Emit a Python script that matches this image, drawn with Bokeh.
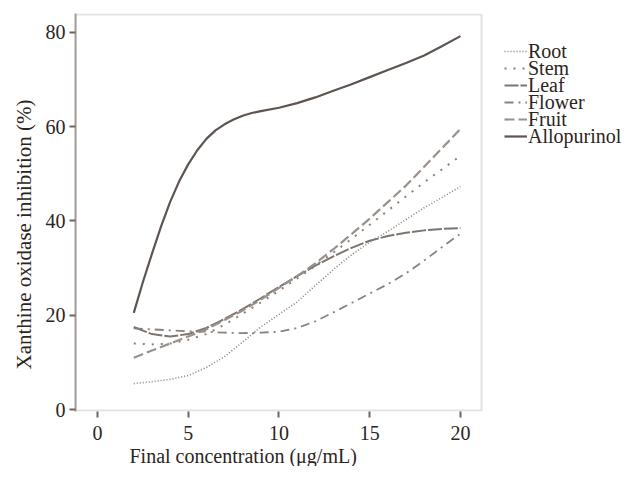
from bokeh.plotting import figure
from bokeh.models import Range1d, FixedTicker, Legend, LegendItem, Title, BoxAnnotation
from bokeh.embed import file_html
from bokeh.resources import INLINE

# ---- data ----
conc = [2, 3, 4, 5, 6, 7, 8, 9, 10, 11, 12, 13, 14, 15, 16, 17, 18, 19, 20]
root = [5.5, 5.9, 6.4, 7.2, 8.9, 11.2, 14.3, 17.5, 20.2, 22.8, 26.3, 29.7, 32.8, 35.5, 37.8, 40.3, 42.8, 45.0, 47.3]
stem = [14.0, 13.8, 14.0, 14.8, 16.0, 18.0, 20.3, 22.7, 25.2, 27.8, 30.5, 33.3, 36.2, 39.2, 42.2, 45.2, 48.2, 51.0, 53.8]
leaf = [17.5, 16.0, 15.5, 16.0, 17.3, 19.2, 21.3, 23.6, 26.0, 28.3, 30.5, 32.5, 34.3, 35.8, 36.8, 37.5, 38.0, 38.3, 38.5]
flower = [17.2, 17.0, 16.8, 16.6, 16.5, 16.3, 16.2, 16.3, 16.5, 17.3, 18.7, 20.6, 22.6, 24.6, 26.6, 28.9, 31.6, 34.5, 37.3]
fruit = [11.0, 12.5, 14.0, 15.5, 17.0, 19.0, 21.0, 23.3, 25.8, 28.3, 31.0, 34.0, 37.2, 40.5, 44.0, 47.5, 51.5, 55.5, 59.5]
# Allopurinol is read more densely where it bends
allo_conc = [2, 2.5, 3, 3.5, 4, 4.5, 5, 5.5, 6, 6.5, 7, 7.5, 8, 8.5, 9, 10, 11, 12, 13, 14, 15, 16, 17, 18, 19, 20]
allopurinol = [20.5, 27.0, 33.0, 38.8, 44.0, 48.4, 52.0, 55.0, 57.4, 59.2, 60.5, 61.5, 62.3, 62.9, 63.3, 64.0,
               65.0, 66.2, 67.6, 69.0, 70.5, 72.0, 73.5, 75.1, 77.1, 79.2]

x_ticks = [0, 5, 10, 15, 20]
y_ticks = [0, 20, 40, 60, 80]
x_title = "Final concentration (\u03bcg/mL)"
y_title = "Xanthine oxidase inhibition (%)"

FONT = "Liberation Serif"
FRAME = "#a59d97"
TEXT = "#2b2522"

# frame spans the whole right side so the legend (outside the drawn box) is not clipped
X0, X1 = -1.21, 21.16        # drawn plot box, data units
Y0, Y1 = -0.42, 84.0
PX_PER_X = 18.15
FRAME_W = 621 - 75
p = figure(width=621, height=466, output_backend="svg", toolbar_location=None,
           x_range=Range1d(X0, X0 + FRAME_W / PX_PER_X), y_range=Range1d(Y0, Y1),
           min_border_left=75, min_border_right=0, min_border_top=13, min_border_bottom=54)
p.grid.visible = False
p.outline_line_color = None
p.background_fill_color = "#ffffff"

for ax, ticks in ((p.xaxis[0], x_ticks), (p.yaxis[0], y_ticks)):
    ax.ticker = FixedTicker(ticks=ticks)
    ax.minor_tick_line_color = None
    ax.major_tick_in = 0
    ax.major_tick_out = 6
    ax.major_tick_line_color = "#6e6660"
    ax.major_tick_line_width = 2
    ax.axis_line_color = FRAME
    ax.axis_line_width = 2
    ax.major_label_text_font = FONT
    ax.major_label_text_font_size = "20px"
    ax.major_label_text_color = TEXT
p.xaxis.axis_line_color = None
p.xaxis.major_label_standoff = 8
p.yaxis.major_label_standoff = 4

# the grey plot box
p.add_layout(BoxAnnotation(left=X0, right=X1, bottom=Y0 + 1 / 4.725, top=Y1 - 1 / 4.725,
                           fill_alpha=0, line_color=FRAME, line_width=2))

series = [
    ("Root", conc, root, "#8a807a", 1.6, "1 2"),
    ("Stem", conc, stem, "#8a807a", 2.0, "2 7"),
    ("Leaf", conc, leaf, "#7d746e", 2.0, "14 2"),
    ("Flower", conc, flower, "#8a817b", 1.8, "9 5 2 5"),
    ("Fruit", conc, fruit, "#9a918b", 2.2, "10 4"),
    ("Allopurinol", allo_conc, allopurinol, "#5e5550", 2.2, "solid"),
]
row_bottoms = [347, 330, 313, 296, 279, 262]   # legend rows, px above the frame bottom
for (name, xs, ys, col, lw, dash), yb in zip(series, row_bottoms):
    r = p.line(xs, ys, line_color=col, line_width=lw, line_dash=dash, line_join="round")
    lg = Legend(items=[LegendItem(label=name, renderers=[r])], location=(429, yb),
                label_text_font=FONT, label_text_font_size="20px", label_text_color=TEXT,
                label_height=26, glyph_height=26, glyph_width=23, label_standoff=1,
                spacing=0, padding=0, margin=0, border_line_alpha=0,
                background_fill_alpha=0)
    p.add_layout(lg)

p.add_layout(Title(text=y_title, align="left", offset=42, standoff=14,
                   text_font=FONT, text_font_size="21px", text_font_style="normal",
                   text_color=TEXT), "left")
p.add_layout(Title(text=x_title, align="left", offset=54, standoff=0,
                   text_font=FONT, text_font_size="20px", text_font_style="normal",
                   text_color=TEXT), "below")

open("out.html", "w").write(file_html(p, INLINE))
